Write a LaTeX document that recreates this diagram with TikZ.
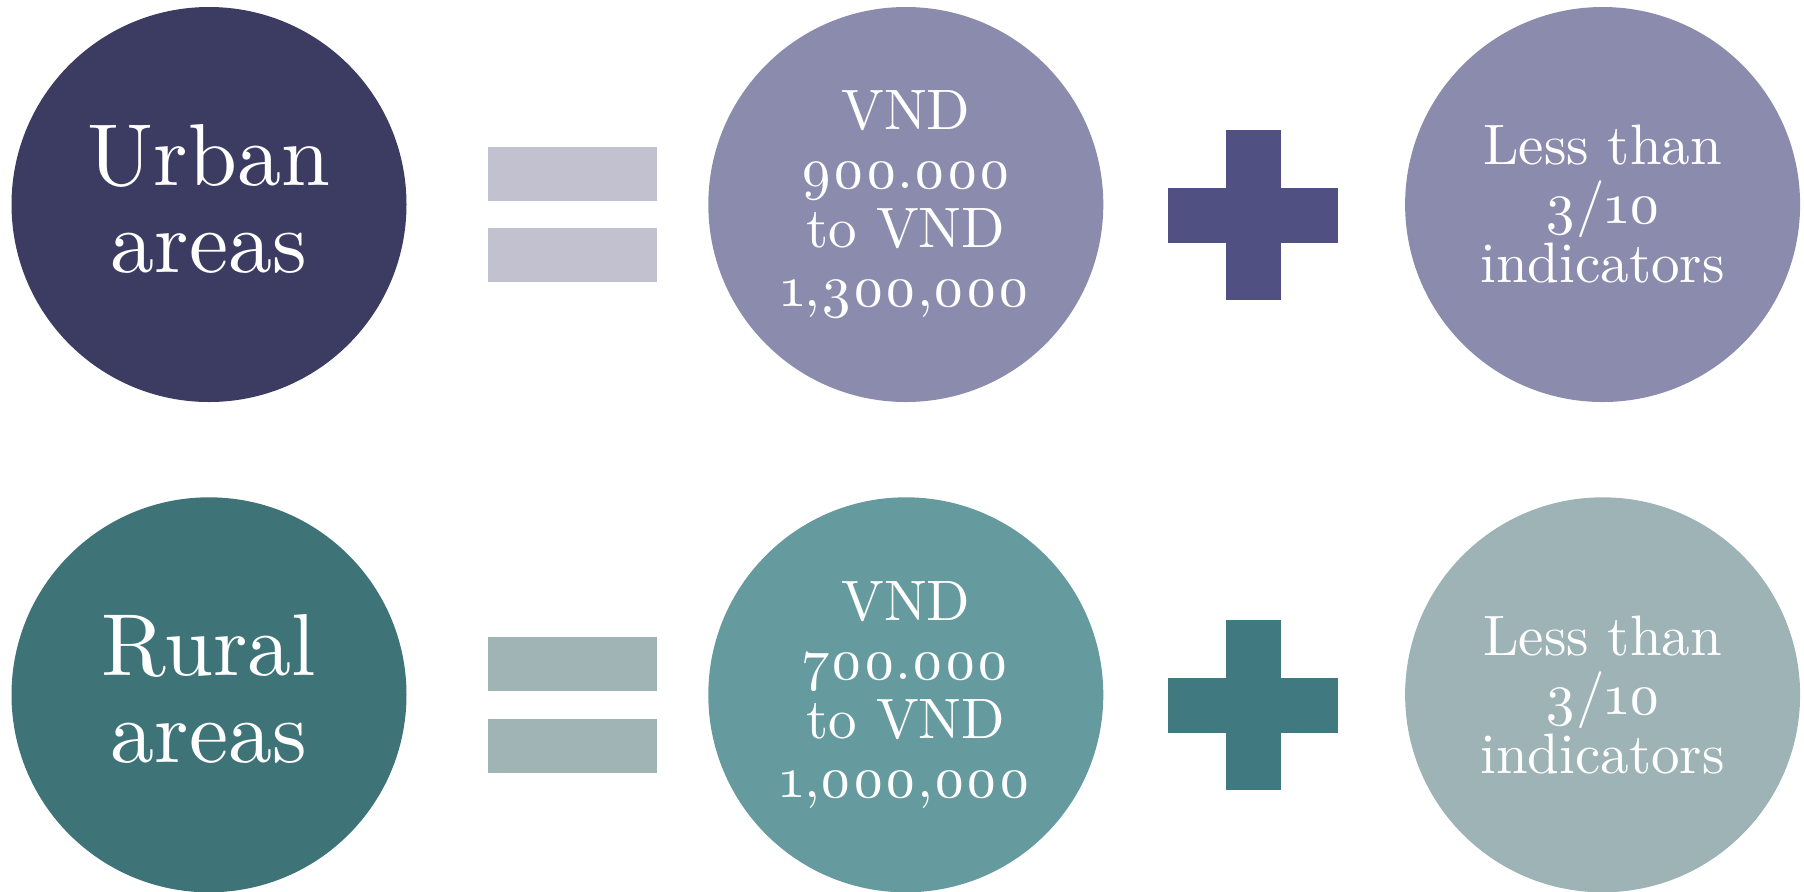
\documentclass[tikz,border=0pt]{standalone}
\usepackage{fontspec}
\setmainfont{lmroman10-regular.otf}[Numbers=OldStyle]
\usepackage{xcolor}
\usetikzlibrary{positioning}

\definecolor{urbandark}{HTML}{3C3B61}
\definecolor{urbanlight}{HTML}{8B8BAD}
\definecolor{urbaneq}{HTML}{C1C1CF}
\definecolor{urbanplus}{HTML}{515083}
\definecolor{ruraldark}{HTML}{3E7377}
\definecolor{ruralmid}{HTML}{659A9F}
\definecolor{rurallight}{HTML}{9EB3B5}
\definecolor{ruraleq}{HTML}{A0B3B5}
\definecolor{ruralplus}{HTML}{417980}

\begin{document}
\begin{tikzpicture}[x=0.5pt, y=-0.5pt, node distance=150.5pt,
	disc/.style={circle, minimum size=197.5pt, inner sep=0pt, text=white, align=center},
	bigtext/.style={font=\fontsize{44pt}{43.5pt}\selectfont},
	smalltext/.style={font=\fontsize{28.5pt}{29.5pt}\selectfont},
	eqbar/.style={rectangle, inner sep=0pt, minimum width=84.5pt, minimum height=27pt},
	plusv/.style={rectangle, inner sep=0pt, minimum width=27.5pt, minimum height=85pt},
	plush/.style={rectangle, inner sep=0pt, minimum width=85pt, minimum height=27.5pt}]

		\useasboundingbox (0,0) rectangle (1804,891);

		% nodes - urban row %
		\node[disc, fill=urbandark] at (209,204.5) (urban) {};
		\node[bigtext, text=white, align=center, yshift=3pt] at (urban) (urbanlbl) {Urban\\areas};
		\node[disc, smalltext, fill=urbanlight, right = of urban] (uincome) {VND\\900.000\\to VND\\1,300,000};
		\node[disc, smalltext, fill=urbanlight, right = of uincome] (uind) {Less than\\3/10\\indicators};

		% nodes - rural row %
		\node[disc, fill=ruraldark, below = 47.25pt of urban] (rural) {};
		\node[bigtext, text=white, align=center, yshift=3pt] at (rural) (rurallbl) {Rural\\areas};
		\node[disc, smalltext, fill=ruralmid, right = of rural] (rincome) {VND\\700.000\\to VND\\1,000,000};
		\node[disc, smalltext, fill=rurallight, right = of rincome] (rind) {Less than\\3/10\\indicators};

		% signs %
		\node[eqbar, fill=urbaneq] at (572.5,173.7) (ueqtop) {};
		\node[eqbar, fill=urbaneq] at (572.5,255.3) (ueqbot) {};
		\node[plusv, fill=urbanplus] at (1253,215) (uplusv) {};
		\node[plush, fill=urbanplus] at (1253,215) (uplush) {};

		\node[eqbar, fill=ruraleq] at (572.5,664.3) (reqtop) {};
		\node[eqbar, fill=ruraleq] at (572.5,745.8) (reqbot) {};
		\node[plusv, fill=ruralplus] at (1253,705) (rplusv) {};
		\node[plush, fill=ruralplus] at (1253,705) (rplush) {};

\end{tikzpicture}
\end{document}
